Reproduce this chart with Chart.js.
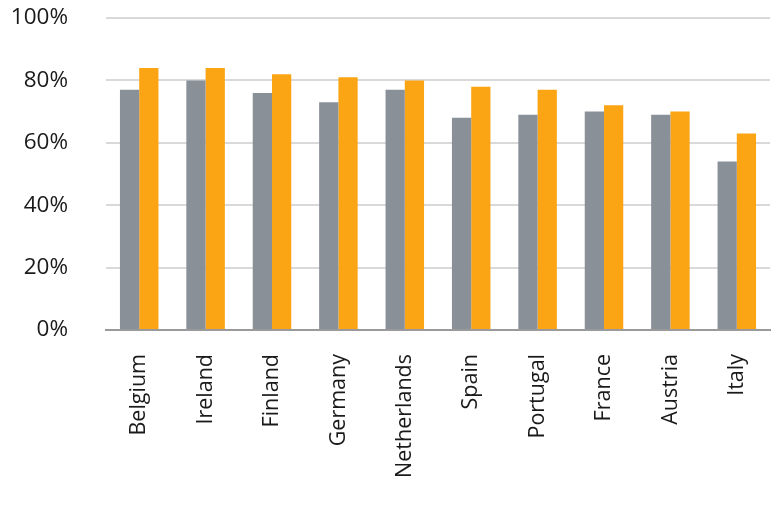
<!DOCTYPE html>
<html>
<head>
<meta charset="utf-8">
<script src="https://cdn.jsdelivr.net/npm/chart.js@4/dist/chart.umd.min.js"></script>
<style>
  html, body { margin: 0; padding: 0; background: #fff; }
  #wrap { width: 778px; height: 518px; position: relative; }
</style>
</head>
<body>
<div id="wrap"><canvas id="c"></canvas></div>
<script>
const countries = ['Belgium', 'Ireland', 'Finland', 'Germany', 'Netherlands', 'Spain', 'Portugal', 'France', 'Austria', 'Italy'];
const greySeries = [77, 80, 76, 73, 77, 68, 69, 70, 69, 54];
const orangeSeries = [84, 84, 82, 81, 80, 78, 77, 72, 70, 63];
const yTicks = [0, 20, 40, 60, 80, 100];

const font = "'Open Sans', 'Noto Sans', sans-serif";

new Chart(document.getElementById('c'), {
  type: 'bar',
  data: {
    labels: countries,
    datasets: [
      { data: greySeries, backgroundColor: '#8a9098', borderWidth: 0 },
      { data: orangeSeries, backgroundColor: '#fba414', borderWidth: 0 }
    ]
  },
  options: {
    responsive: true,
    maintainAspectRatio: false,
    animation: false,
    layout: { padding: { top: 18, right: 8, bottom: 0, left: 6 } },
    plugins: { legend: { display: false }, tooltip: { enabled: false } },
    datasets: { bar: { categoryPercentage: 0.58, barPercentage: 1.0 } },
    scales: {
      x: {
        grid: { display: false, drawTicks: false },
        border: { display: true, color: '#9a9a9a', width: 2 },
        ticks: {
          color: '#1a1a1a',
          font: { family: font, size: 21.5 },
          minRotation: 90,
          maxRotation: 90,
          padding: 24,
          autoSkip: false
        },
        afterFit: (s) => { s.height = 188; s.paddingLeft = 0; s.paddingRight = 0; }
      },
      y: {
        min: 0,
        max: 100,
        afterBuildTicks: (axis) => { axis.ticks = yTicks.map((v) => ({ value: v })); },
        grid: { color: '#d9d9d9', lineWidth: 2, drawTicks: false },
        border: { display: false },
        ticks: {
          color: '#1a1a1a',
          font: { family: font, size: 22.5 },
          padding: 38,
          callback: (v) => v + '%'
        },
        afterFit: (s) => { s.width = 100; s.paddingTop = 0; s.paddingBottom = 0; }
      }
    }
  }
});
</script>
</body>
</html>
